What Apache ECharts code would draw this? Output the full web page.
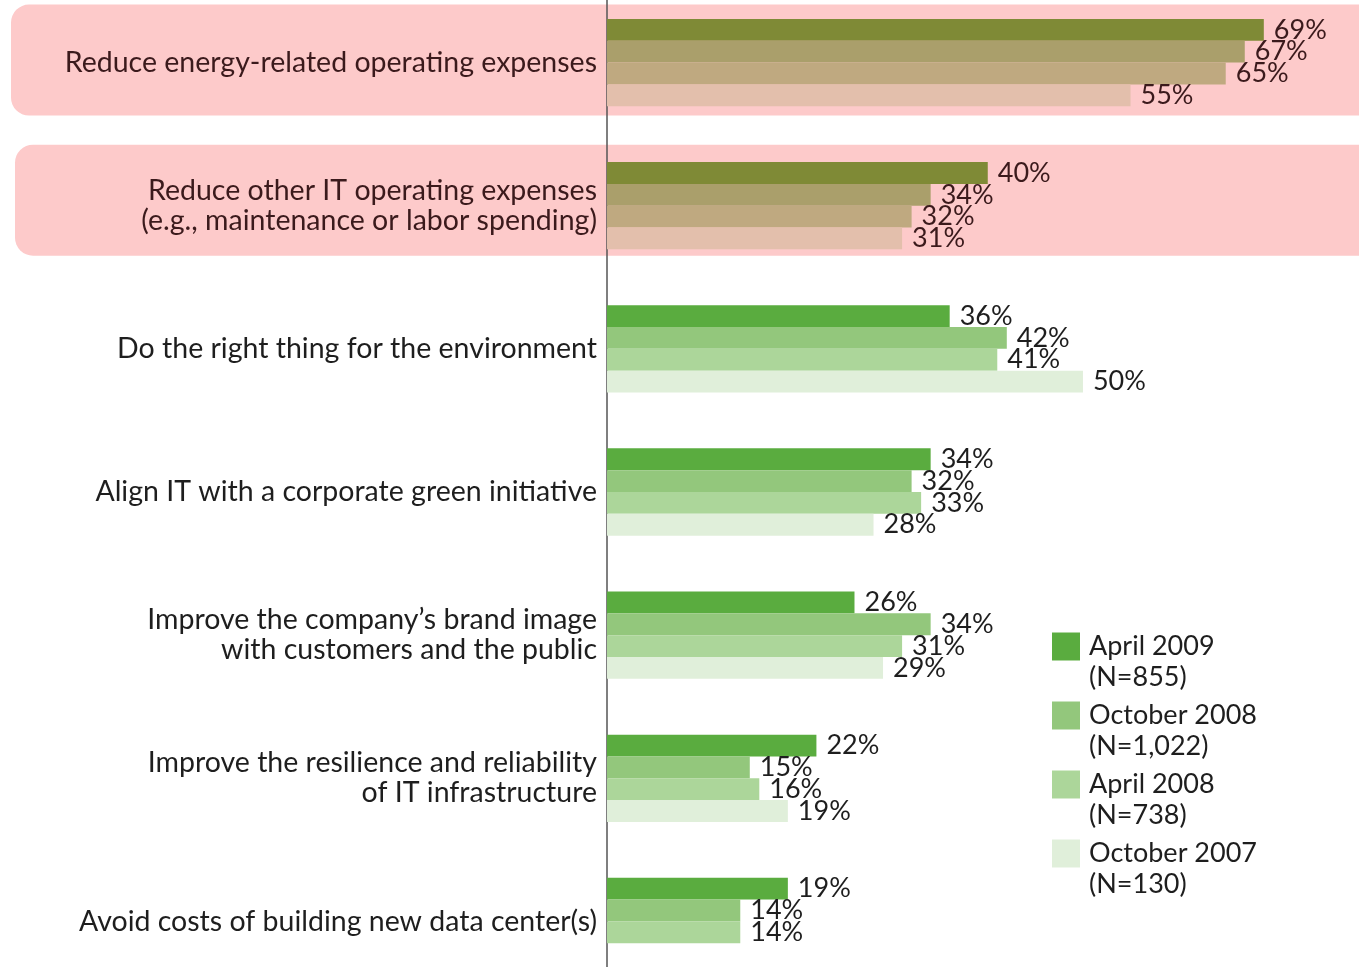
<!DOCTYPE html>
<html>
<head>
<meta charset="utf-8">
<script src="https://cdn.jsdelivr.net/npm/echarts@6/dist/echarts.min.js"></script>
<style>
html, body { margin: 0; padding: 0; background: #fff; }
#chart { width: 1359px; height: 967px; }
</style>
</head>
<body>
<div id="chart"></div>
<script>
// data
var categories = [
  'Reduce energy-related operating expenses',
  'Reduce other IT operating expenses\n(e.g., maintenance or labor spending)',
  'Do the right thing for the environment',
  'Align IT with a corporate green initiative',
  'Improve the company\u2019s brand image\nwith customers and the public',
  'Improve the resilience and reliability\nof IT infrastructure',
  'Avoid costs of building new data center(s)'
];
var seriesNames = ['April 2009', 'October 2008', 'April 2008', 'October 2007'];
var sampleSizes = ['(N=855)', '(N=1,022)', '(N=738)', '(N=130)'];
var apr2009 = [69, 40, 36, 34, 26, 22, 19];
var oct2008 = [67, 34, 42, 32, 34, 15, 14];
var apr2008 = [65, 32, 41, 33, 31, 16, 14];
var oct2007 = [55, 31, 50, 28, 29, 19, null];
var highlighted = [0, 1];

var greens = ['#5aac3f', '#93c77c', '#acd69a', '#e0efda'];
var olives = ['#7f8a36', '#aa9f6b', '#bfa980', '#e3bfac'];
var maroon = '#3b1a1c';
var ink = '#1e1e1e';
var font = 'Lato';

var allData = [apr2009, oct2008, apr2008, oct2007];

function makeSeries(k) {
  return {
    name: seriesNames[k],
    type: 'bar',
    barGap: '0%',
    barCategoryGap: '39%',
    itemStyle: { color: greens[k] },
    label: {
      show: true,
      position: 'right',
      distance: 10,
      formatter: '{c}%',
      fontFamily: font,
      fontSize: 27,
      color: ink
    },
    data: allData[k].map(function (v, i) {
      if (v == null) return '-';
      if (highlighted.indexOf(i) >= 0) {
        return { value: v, itemStyle: { color: olives[k] }, label: { color: maroon } };
      }
      return v;
    })
  };
}

var chart = echarts.init(document.getElementById('chart'));

var option = {
  animation: false,
  grid: { left: 607, width: 752, top: -9, height: 1002, outerBoundsMode: 'none', containLabel: false },
  xAxis: {
    type: 'value',
    min: 0,
    max: 79,
    show: false
  },
  yAxis: {
    type: 'category',
    inverse: true,
    data: categories,
    axisLine: { show: true, lineStyle: { color: '#555', width: 1.5 } },
    axisTick: { show: false },
    axisLabel: {
      margin: 10,
      interval: 0,
      align: 'right',
      formatter: function (val, idx) {
        var style = highlighted.indexOf(idx) >= 0 ? 'hl' : 'n';
        return val.split('\n').map(function (s) { return '{' + style + '|' + s + '}'; }).join('\n');
      },
      rich: {
        hl: { fontFamily: font, fontSize: 28.5, color: maroon, lineHeight: 30, align: 'right' },
        n: { fontFamily: font, fontSize: 28.5, color: ink, lineHeight: 30, align: 'right' }
      }
    }
  },
  legend: {
    orient: 'vertical',
    left: 1047,
    top: 597,
    icon: 'rect',
    itemWidth: 28,
    itemHeight: 28,
    itemGap: -20,
    data: seriesNames,
    formatter: function (name) {
      // blank first line keeps the first text line level with the swatch
      return '{e| }\n{t|' + name + '}\n{t|' + sampleSizes[seriesNames.indexOf(name)] + '}';
    },
    textStyle: {
      fontFamily: font,
      fontSize: 27,
      color: ink,
      rich: {
        e: { fontFamily: font, fontSize: 27, lineHeight: 31 },
        t: { fontFamily: font, fontSize: 27, lineHeight: 31, color: ink, padding: [0, 0, 0, 4] }
      }
    }
  },
  series: [makeSeries(0), makeSeries(1), makeSeries(2), makeSeries(3)]
};
chart.setOption(option);

// pink rounded panels behind the highlighted rows
var panelLeft = [11, 15];
var panelLift = [58, 61];
var panels = highlighted.map(function (i, n) {
  var cy = chart.convertToPixel({ yAxisIndex: 0 }, categories[i]);
  return {
    type: 'rect',
    z: 0,
    shape: { x: panelLeft[n], y: cy - panelLift[n], width: 1400, height: 111, r: 18 },
    style: { fill: '#fdcaca' }
  };
});
chart.setOption({ graphic: panels });
</script>
</body>
</html>
